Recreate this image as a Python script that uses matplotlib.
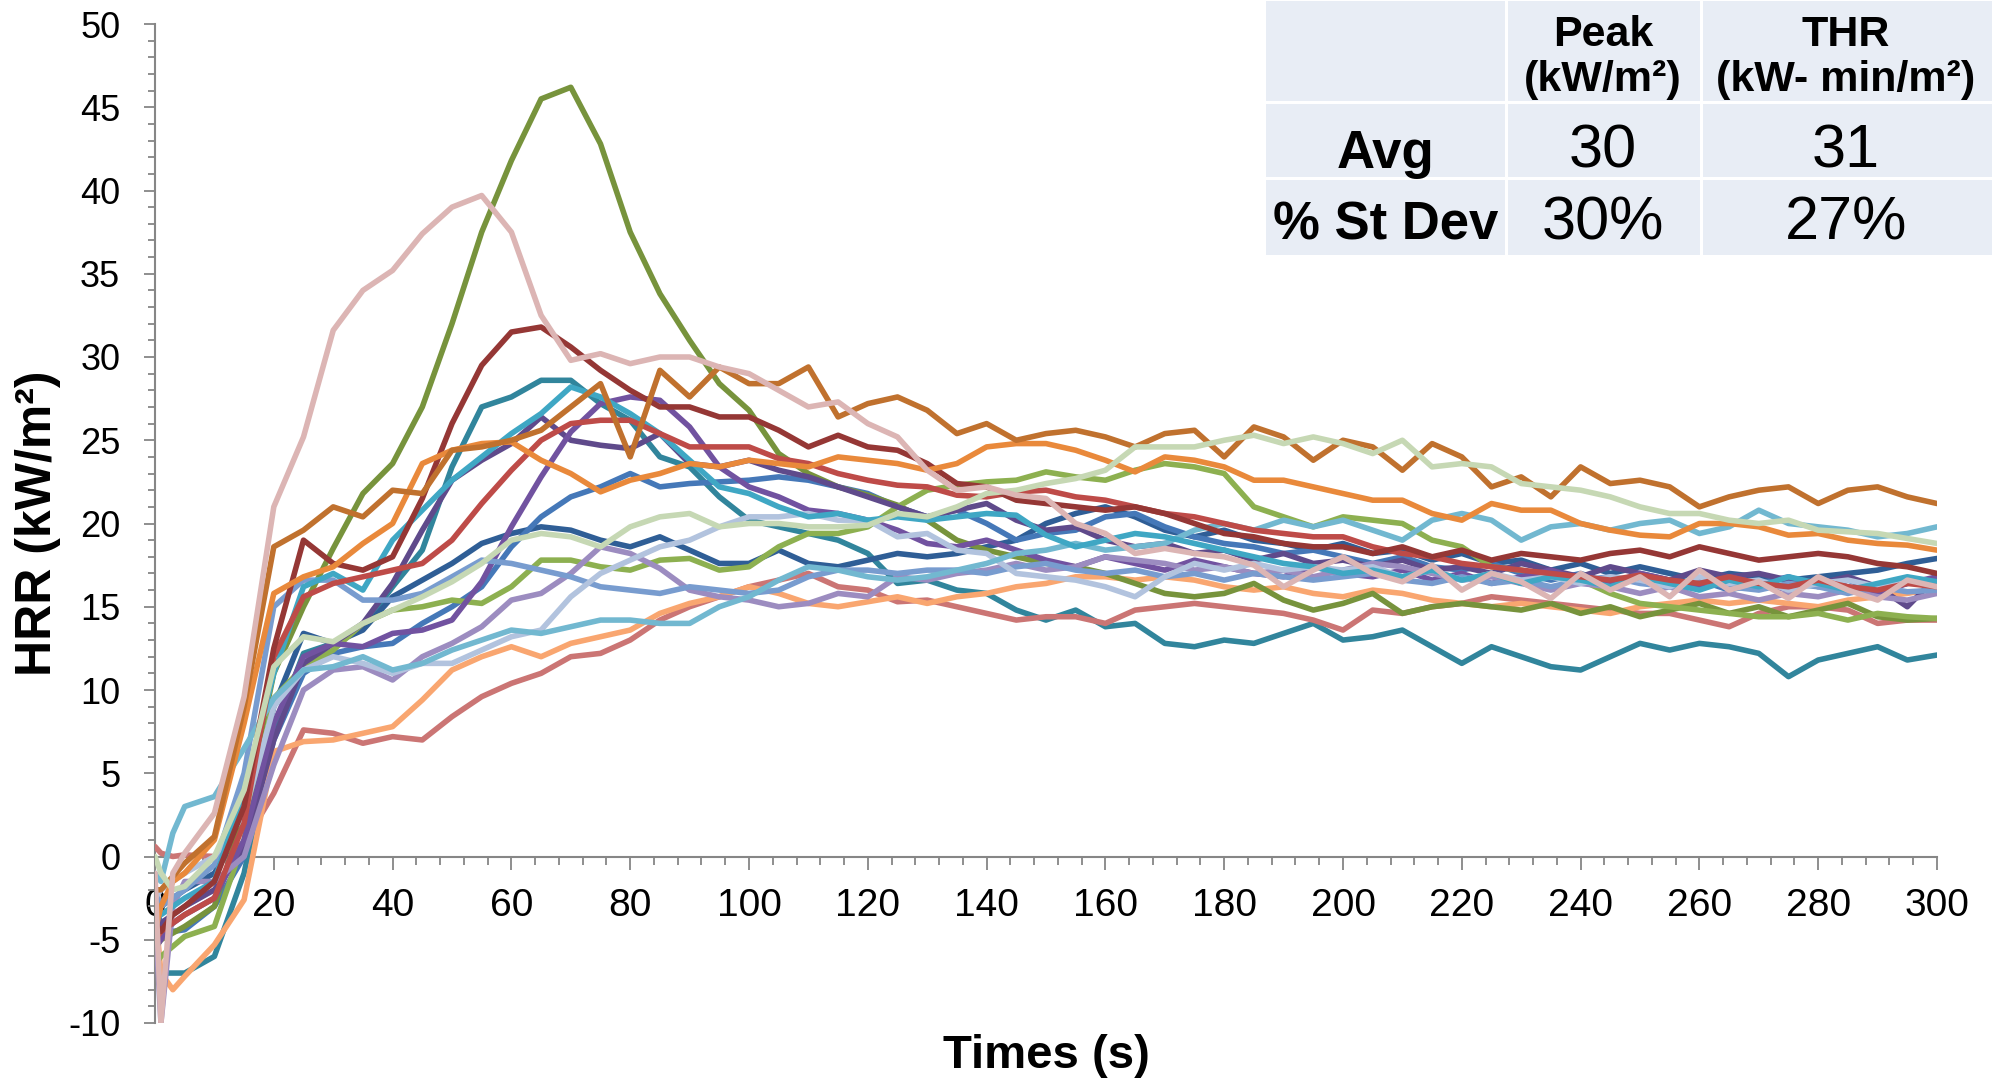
import matplotlib
matplotlib.use('Agg')
import matplotlib.pyplot as plt
from matplotlib.ticker import MultipleLocator
from matplotlib.patches import Rectangle

plt.rcParams['font.family'] = ['Liberation Sans', 'DejaVu Sans']
plt.rcParams['axes.unicode_minus'] = False

# time grid (s)
t = [0, 1, 3] + list(range(5, 301, 5))

# HRR curves (kW/m2)
pale_pink = [-1, -10, -1,
             0.2, 2.6, 9.6, 21, 25.2, 31.6, 34, 35.2, 37.4, 39,
             39.7, 37.5, 32.5, 29.8, 30.2, 29.6, 30, 30, 29.4, 29,
             28, 27, 27.3, 26, 25.2, 23.2, 22, 22.2, 21.7, 21.5,
             20, 19.4, 18.2, 18.5, 18.2, 18, 17.5, 16.2, 17.2, 18,
             17, 16.5, 17.5, 16, 17, 16.5, 15.5, 17, 16, 16.8,
             15.6, 17.2, 16, 16.5, 15.5, 16.8, 16, 15.4, 16.6, 16.2]
olive = [-5.5, -5, -4.6,
         -4.2, -3, 2.5, 11, 15, 18.5, 21.8, 23.6, 27, 32,
         37.5, 41.8, 45.5, 46.2, 42.8, 37.5, 33.8, 31, 28.4, 26.8,
         24.2, 23, 22.2, 21.7, 21.1, 20.2, 19, 18.4, 18, 17.6,
         17.4, 17, 16.4, 15.8, 15.6, 15.8, 16.4, 15.4, 14.8, 15.2,
         15.8, 14.6, 15, 15.2, 15, 14.8, 15.2, 14.6, 15, 14.4,
         14.8, 15.2, 14.6, 15, 14.4, 14.8, 15.2, 14.4, 14.2, 14.3]
dark_red = [-4, -4.5, -3.5,
            -3, -1.5, 3, 12.5, 19, 17.6, 17.2, 18, 21.5, 26,
            29.5, 31.5, 31.8, 30.6, 29.2, 28, 27, 27, 26.4, 26.4,
            25.6, 24.6, 25.3, 24.6, 24.4, 23.6, 22.4, 22.2, 21.4, 21.2,
            21, 20.8, 21, 20.6, 20, 19.4, 19.2, 18.8, 18.6, 18.6,
            18.2, 18.6, 18, 18.4, 17.8, 18.2, 18, 17.8, 18.2, 18.4,
            18, 18.6, 18.2, 17.8, 18, 18.2, 18, 17.6, 17.4, 17]
teal = [-5, -7, -7,
        -7, -6, -1, 7.5, 12.2, 12.8, 13.8, 16.2, 18.4, 23.4,
        27, 27.6, 28.6, 28.6, 27.2, 26.2, 24, 23.4, 21.6, 20.2,
        19.8, 19.4, 19, 18.2, 16.4, 16.6, 16, 15.8, 14.8, 14.2,
        14.8, 13.8, 14, 12.8, 12.6, 13, 12.8, 13.4, 14, 13,
        13.2, 13.6, 12.6, 11.6, 12.6, 12, 11.4, 11.2, 12, 12.8,
        12.4, 12.8, 12.6, 12.2, 10.8, 11.8, 12.2, 12.6, 11.8, 12.1]
brown = [-2, -2, -1.2,
         -0.4, 1.2, 9, 18.6, 19.6, 21, 20.4, 22, 21.8, 24.4,
         24.6, 25, 25.6, 27, 28.4, 24, 29.2, 27.6, 29.4, 28.4,
         28.4, 29.4, 26.4, 27.2, 27.6, 26.8, 25.4, 26, 25, 25.4,
         25.6, 25.2, 24.6, 25.4, 25.6, 24, 25.8, 25.2, 23.8, 25,
         24.6, 23.2, 24.8, 24, 22.2, 22.8, 21.6, 23.4, 22.4, 22.6,
         22.2, 21, 21.6, 22, 22.2, 21.2, 22, 22.2, 21.6, 21.2]
orange = [-4.5, -3, -1.5,
          -1, 1, 8, 15.8, 16.8, 17.4, 18.8, 20, 23.6, 24.4,
          24.8, 24.9, 23.8, 23, 21.9, 22.6, 23, 23.6, 23.4, 23.8,
          23.6, 23.4, 24, 23.8, 23.6, 23.2, 23.6, 24.6, 24.8, 24.8,
          24.4, 23.8, 23.1, 24, 23.8, 23.4, 22.6, 22.6, 22.2, 21.8,
          21.4, 21.4, 20.6, 20.2, 21.2, 20.8, 20.8, 20, 19.6, 19.3,
          19.2, 20, 20, 19.8, 19.3, 19.4, 19, 18.8, 18.7, 18.4]
aqua = [-3, -3.5, -3,
        -2.5, -1.5, 4, 11, 16.2, 17, 16, 19, 20.8, 22.6,
        24, 25.4, 26.6, 28.2, 27.6, 26.6, 25.4, 23.8, 22.2, 21.8,
        21, 20.4, 20.6, 20.2, 20.4, 20.2, 20.4, 20.6, 20.5, 19.3,
        18.6, 19, 19.4, 19.2, 18.8, 18.4, 18, 17.6, 17.4, 17,
        17.2, 16.8, 17.2, 16.6, 17, 16.4, 16.8, 16.6, 16.2, 16.8,
        16.4, 16, 16.6, 16.2, 16.8, 16.4, 16, 16.4, 16.8, 16.5]
purple = [-5.5, -5, -4,
          -3.5, -2.5, 1, 8, 12, 12.8, 12.6, 13.4, 13.6, 14.2,
          16.5, 19.8, 22.8, 25.5, 27.2, 27.6, 27.4, 25.8, 23.4, 22.2,
          21.6, 20.8, 20.6, 20.2, 19.6, 18.8, 18.6, 19, 18.4, 17.8,
          17.4, 18, 17.6, 17.2, 17.8, 17.4, 17, 16.8, 17.4, 17,
          16.8, 17.2, 16.6, 17, 16.4, 16.8, 17.2, 16.6, 16.4, 17,
          16.6, 16.2, 16.8, 16.4, 16, 16.6, 16.2, 15.8, 16.4, 16.8]
red = [-5, -4.5, -4,
       -3.5, -2.5, 2, 12, 15.6, 16.4, 16.8, 17.2, 17.6, 19,
       21.2, 23.2, 25, 26, 26.2, 26.2, 25.4, 24.6, 24.6, 24.6,
       23.9, 23.6, 23, 22.6, 22.3, 22.2, 21.7, 21.6, 21.9, 22,
       21.6, 21.4, 21, 20.6, 20.4, 20, 19.6, 19.4, 19.2, 19.2,
       18.6, 18.2, 18, 17.6, 17.4, 17.2, 17, 16.8, 16.6, 16.9,
       16.6, 16.4, 16.8, 16.4, 16.2, 16.6, 16.2, 16, 16.4, 16.2]
dark_purple = [-4.5, -4, -3.5,
               -3, -2, 0.5, 7, 11.6, 12.8, 14, 16.4, 19.6, 22.6,
               23.8, 24.8, 26.4, 25, 24.7, 24.5, 25.4, 23.6, 23.4, 23.8,
               23.2, 22.8, 22.2, 21.6, 21, 20.4, 20.8, 21.2, 20.2, 19.6,
               19.8, 19, 18.6, 18.8, 18.2, 18.4, 17.8, 18.2, 17.6, 17.8,
               17.4, 17.8, 17.2, 17.4, 17, 17.6, 17.2, 16.8, 17.4, 17,
               16.6, 17.2, 16.8, 17, 16.6, 16.4, 16.8, 16.2, 15, 16.8]
blue = [-3, -4, -4.5,
        -4.4, -3, 0, 7, 11, 12.2, 12.6, 12.8, 14, 15,
        16.2, 18.6, 20.4, 21.6, 22.2, 23, 22.2, 22.4, 22.5, 22.6,
        22.8, 22.6, 22.2, 21.8, 21, 20.4, 20.8, 20, 19, 19.4,
        19.6, 20.4, 20.6, 19.8, 19.2, 18.8, 18.6, 18.2, 18.4, 18,
        17.6, 18, 17.4, 17.2, 17.6, 17, 16.6, 17, 16.4, 16.8,
        16.2, 16.6, 16, 16.4, 16.8, 16.2, 16.6, 16, 16.4, 16.6]
dark_blue = [-3.5, -3, -2.5,
             -2, -1, 2, 9, 13.4, 12.8, 13.6, 15.6, 16.6, 17.6,
             18.8, 19.4, 19.8, 19.6, 19, 18.6, 19.2, 18.4, 17.6, 17.6,
             18.4, 17.6, 17.4, 17.8, 18.2, 18, 18.2, 18.6, 19, 20,
             20.6, 21, 20.4, 19.6, 19.2, 19.6, 19, 18.8, 18.4, 18.8,
             18.2, 18.4, 17.8, 18.2, 17.6, 17.8, 17.2, 17.6, 17, 17.4,
             17, 16.6, 17, 16.8, 16.6, 16.8, 17, 17.2, 17.6, 17.9]
light_green = [0, -1, -2,
               -1.8, 0, 4, 11.4, 13.2, 12.9, 14, 14.8, 15.6, 16.5,
               17.6, 19, 19.4, 19.2, 18.6, 19.8, 20.4, 20.6, 19.8, 20,
               20, 19.8, 19.8, 19.9, 20.6, 20.4, 21, 21.8, 22, 22.4,
               22.7, 23.2, 24.6, 24.6, 24.6, 25, 25.3, 24.8, 25.2, 24.8,
               24.2, 25, 23.4, 23.6, 23.4, 22.4, 22.2, 22, 21.6, 21,
               20.6, 20.6, 20.2, 20, 20.2, 19.6, 19.5, 19.4, 19.1, 18.8]
green = [-6.5, -6, -5.4,
         -4.8, -4.2, 1, 9.5, 11.4, 12.4, 14, 14.8, 15, 15.4,
         15.2, 16.2, 17.8, 17.8, 17.4, 17.2, 17.8, 17.9, 17.2, 17.4,
         18.6, 19.4, 19.4, 19.8, 21, 22, 22.3, 22.5, 22.6, 23.1,
         22.8, 22.6, 23.2, 23.6, 23.4, 23, 21, 20.4, 19.8, 20.4,
         20.2, 20, 19, 18.6, 17.4, 17.2, 16.8, 16.6, 15.8, 15.2,
         15, 14.8, 14.6, 14.4, 14.4, 14.6, 14.2, 14.6, 14.4, 14.3]
light_blue = [-2, -3, -2.5,
              -2, -0.5, 5, 15, 16.6, 16.6, 15.4, 15.4, 15.8, 16.8,
              17.8, 17.6, 17.2, 16.8, 16.2, 16, 15.8, 16.2, 16, 15.8,
              16, 16.8, 17.2, 17.2, 17, 17.2, 17.2, 17, 17.4, 17.6,
              17.2, 17, 17.2, 16.8, 17, 16.6, 17, 16.8, 16.6, 16.8,
              17, 16.6, 16.4, 16.8, 16.4, 16.6, 16.2, 16.6, 16.8, 16.4,
              16.2, 16.6, 16.2, 16, 16.4, 16.2, 15.8, 16.2, 15.9, 16]
light_purple = [-3.5, -10, -3,
                -1.5, -1.5, 0, 5.5, 10, 11.2, 11.4, 10.6, 12, 12.8,
                13.8, 15.4, 15.8, 17, 18.6, 18.2, 17.3, 16, 15.6, 15.4,
                15, 15.2, 15.8, 15.6, 16.8, 16.6, 17, 17.2, 17.6, 17.2,
                17.4, 18, 17.8, 17.6, 17.2, 17.4, 17, 17.2, 16.8, 17.2,
                17.6, 17.4, 17, 16.6, 16.8, 16.4, 16, 16.4, 16.2, 15.8,
                16.2, 15.6, 15.8, 15.4, 15.8, 15.6, 16, 15.6, 15.4, 15.8]
light_cyan = [-1, -1.5, 1.4,
              3, 3.6, 6.5, 9.5, 11.2, 11.4, 12, 11.2, 11.6, 12.4,
              13, 13.6, 13.4, 13.8, 14.2, 14.2, 14, 14, 15, 15.6,
              16.6, 17.4, 17.2, 16.8, 16.6, 16.8, 17.2, 17.6, 18.2, 18.4,
              18.8, 18.4, 18.6, 18.8, 19.6, 20, 19.6, 20.2, 19.8, 20.2,
              19.6, 19, 20.2, 20.6, 20.2, 19, 19.8, 20, 19.6, 20,
              20.2, 19.4, 19.8, 20.8, 20, 19.8, 19.6, 19.2, 19.4, 19.8]
pale_blue = [-2.5, -2, -1.5,
             -1, 0, 2.5, 9, 11.2, 12, 11.6, 11, 11.6, 11.6,
             12.4, 13.2, 13.6, 15.6, 17, 17.8, 18.6, 19, 19.8, 20.4,
             20.4, 20.6, 20.2, 20.2, 19.2, 19.4, 18.4, 18.2, 17, 16.8,
             16.6, 16.2, 15.6, 16.8, 17.6, 17.2, 17.6, 17.2, 17.4, 17.2,
             17.4, 16.8, 17.2, 16.6, 17, 16.6, 16.8, 16.4, 16.8, 16.6,
             16.2, 16.8, 16.4, 16.6, 16, 16.4, 16.6, 16.2, 16.6, 16.4]
light_orange = [-3, -7, -8,
                -7.2, -5.3, -2.6, 6.3, 6.9, 7, 7.4, 7.8, 9.4, 11.2,
                12, 12.6, 12, 12.8, 13.2, 13.6, 14.6, 15.2, 15.6, 16.2,
                15.8, 15.2, 15, 15.3, 15.6, 15.2, 15.6, 15.8, 16.2, 16.4,
                16.8, 16.8, 16.6, 16.8, 16.6, 16.2, 16, 16.2, 15.8, 15.6,
                16, 15.8, 15.4, 15.2, 15, 15.2, 15, 14.8, 14.6, 15,
                15.2, 15.4, 15.2, 15.4, 15.2, 15, 15.4, 15.6, 15.8, 16.1]
pink_red = [0.6, 0.2, 0,
            0.1, 0, 0.8, 3.8, 7.6, 7.4, 6.8, 7.2, 7, 8.4,
            9.6, 10.4, 11, 12, 12.2, 13, 14.2, 15, 15.6, 16.2,
            16.6, 17, 16.2, 16, 15.3, 15.4, 15, 14.6, 14.2, 14.4,
            14.4, 14, 14.8, 15, 15.2, 15, 14.8, 14.6, 14.2, 13.6,
            14.8, 14.6, 15, 15.2, 15.6, 15.4, 15.2, 15, 14.8, 14.6,
            14.6, 14.2, 13.8, 14.6, 15, 15, 14.8, 14, 14.2, 14.2]

series = [
    (teal, '#31859C'), (dark_blue, '#2F5E96'), (blue, '#4578B8'),
    (pink_red, '#CB7574'), (light_orange, '#F9A670'), (olive, '#77933C'),
    (green, '#8DB050'), (dark_purple, '#5F4A8B'), (purple, '#7152A0'),
    (light_purple, '#9C8CC0'), (light_blue, '#789CCF'), (pale_blue, '#B2C3DE'),
    (light_cyan, '#72B8D0'), (aqua, '#3FA7C4'), (red, '#BE4B48'),
    (dark_red, '#953735'), (orange, '#E9893B'), (brown, '#C0712E'),
    (light_green, '#C6D8B4'), (pale_pink, '#DCB5B4'),
]

W, H = 1992, 1083
fig = plt.figure(figsize=(W / 100, H / 100), dpi=100)
ax = fig.add_axes([155 / W, 1 - 1023 / H, (1937 - 155) / W, (1023 - 24) / H])

for vals, col in series:
    ax.plot(t, vals, color=col, lw=4, solid_joinstyle='round',
            solid_capstyle='round', zorder=3)

ax.set_xlim(0, 300)
ax.set_ylim(-10, 50)
ax.spines['top'].set_visible(False)
ax.spines['right'].set_visible(False)
ax.spines['bottom'].set_position(('data', 0))
for s in ['left', 'bottom']:
    ax.spines[s].set_color('#868686')
    ax.spines[s].set_linewidth(1.5)
ax.xaxis.set_major_locator(MultipleLocator(20))
ax.xaxis.set_minor_locator(MultipleLocator(4))
ax.yaxis.set_major_locator(MultipleLocator(5))
ax.yaxis.set_minor_locator(MultipleLocator(1))
ax.tick_params(which='both', direction='out', color='#868686', width=1.3)
ax.tick_params(axis='x', which='major', length=9, pad=14, labelsize=28)
ax.tick_params(axis='x', which='minor', length=6)
ax.tick_params(axis='y', which='major', length=8, pad=17, labelsize=26)
ax.tick_params(axis='y', which='minor', length=5)

fig.text(38 / W, 1 - 523 / H, 'HRR (kW/m²)', rotation=90, ha='center',
         va='center', fontsize=36, fontweight='bold')
fig.text(1046 / W, 1 - 1056 / H, 'Times (s)', ha='center', va='center',
         fontsize=34, fontweight='bold')

# summary table, top right
cols = [(1266, 1505), (1508, 1700), (1703, 1992)]
rows = [(1, 101), (104, 177), (180, 255)]
for x0, x1 in cols:
    for y0, y1 in rows:
        fig.add_artist(Rectangle((x0 / W, 1 - y1 / H), (x1 - x0) / W, (y1 - y0) / H,
                                 transform=fig.transFigure, facecolor='#E8EDF5',
                                 edgecolor='none', zorder=5))


def cell_text(x, y, s, size, weight='normal'):
    fig.text(x / W, 1 - y / H, s, ha='center', va='baseline', fontsize=size,
             fontweight=weight, zorder=6)


cell_text(1603, 46, 'Peak', 31, 'bold')
cell_text(1603, 91, '(kW/m²)', 31, 'bold')
cell_text(1846, 46, 'THR', 31, 'bold')
cell_text(1846, 91, '(kW- min/m²)', 31, 'bold')
cell_text(1386, 168, 'Avg', 38, 'bold')
cell_text(1386, 240, '% St Dev', 38, 'bold')
cell_text(1603, 168, '30', 44)
cell_text(1846, 168, '31', 44)
cell_text(1603, 240, '30%', 44)
cell_text(1846, 240, '27%', 44)

fig.savefig('out.png', dpi=100)
